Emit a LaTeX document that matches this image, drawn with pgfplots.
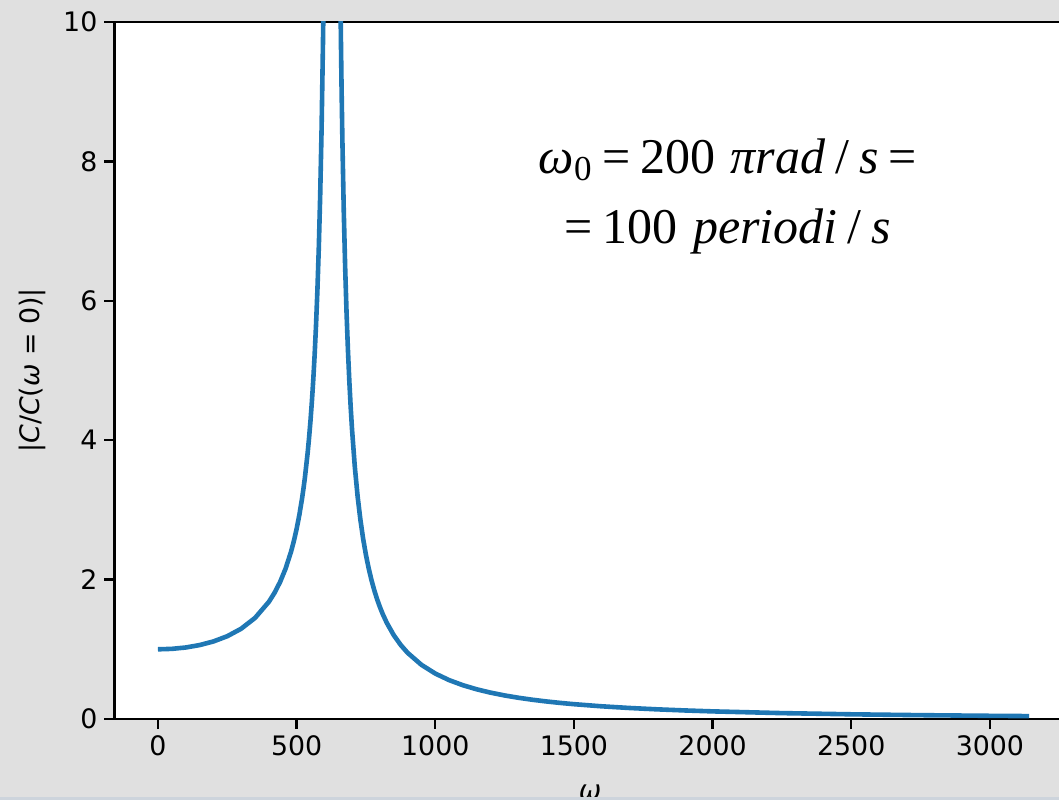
\documentclass[border=0pt]{standalone}
\usepackage{fontspec}
\setmainfont{DejaVu Sans}
\newfontfamily\annfont{Liberation Serif}
\usepackage{pgfplots}
\pgfplotsset{compat=1.18}
\definecolor{bg}{RGB}{224,224,224}
\definecolor{mplblue}{RGB}{31,119,180}
\definecolor{edge}{RGB}{205,212,220}
\newcommand{\gsp}{\hspace{0.2em}}
\begin{document}
\begin{tikzpicture}[x=1pt,y=1pt]
\useasboundingbox (0,0) rectangle (529.5,400);
\clip (0,0) rectangle (529.5,400);
\fill[bg] (0,0) rectangle (529.5,400);
\begin{axis}[
  at={(57.2pt,40.5pt)}, anchor=south west,
  scale only axis, width=479.15pt, height=348.5pt,
  xmin=-157.08, xmax=3298.7, ymin=0, ymax=10,
  axis background/.style={fill=white},
  axis line style={line width=1.2pt},
  every tick/.style={black, line width=1.2pt},
  tick align=outside, tick pos=left, major tick length=5pt,
  xtick={0,500,1000,1500,2000,2500,3000},
  ytick={0,2,4,6,8,10},
  tick label style={font=\fontsize{13.4}{16}\selectfont},
  /pgf/number format/assume math mode=true,
  /pgf/number format/1000 sep={},
  xlabel={\textit{ω}},
  xlabel style={at={(axis description cs:0.4963,-0.1162)}, anchor=base, font=\fontsize{13.4}{16}\selectfont},
  ylabel={|\textit{C}/\textit{C}(\textit{ω} = 0)|},
  ylabel style={at={(axis description cs:-0.086,0.5)}, anchor=center, rotate=0, font=\fontsize{13.4}{16}\selectfont},
]
\addplot[mplblue, line width=2.3pt, line join=round] coordinates {
(0,1) (50,1.00637) (100,1.02599) (150,1.06044) (200,1.11274) (250,1.18809)
(300,1.29530) (350,1.44990) (400,1.68147) (420,1.80775) (440,1.96230)
(460,2.15512) (480,2.40160) (490,2.55219) (500,2.72671) (510,2.93119)
(520,3.17392) (525,3.31311) (530,3.46654) (540,3.82602) (545,4.03833)
(550,4.27792) (555,4.55034) (560,4.8628) (565,5.22486) (570,5.64914)
(575,6.15322) (580,6.76186) (585,7.51126) (590,8.4566) (595,9.68582)
(597,10.2875) (598,10.6182) (600,11.3496) (610,17.404) (620,38.02)
(640,26.646) (650,14.244) (655,11.530) (657,10.709) (660,9.6723)
(662,9.0838) (665,8.3216) (670,7.2952) (675,6.4888) (680,5.8386)
(685,5.3033) (690,4.8550) (695,4.4739) (700,4.1462) (710,3.6114)
(720,3.1936) (730,2.8584) (740,2.5834) (750,2.3539) (760,2.1595)
(770,1.9927) (780,1.8481) (790,1.7216) (800,1.60995) (810,1.5108)
(825,1.38113) (850,1.20465) (875,1.06456) (900,0.95079)
(950,0.77757) (1000,0.65229) (1050,0.55783) (1100,0.48427) (1150,0.42555)
(1200,0.37770) (1250,0.33809) (1300,0.30480) (1350,0.27651) (1400,0.25222)
(1450,0.23118) (1500,0.21280) (1600,0.18233) (1700,0.15822) (1800,0.13875)
(1900,0.12279) (2000,0.10950) (2250,0.08458) (2500,0.06742) (2750,0.05508)
(3000,0.04588) (3141.6,0.04167)
};
\node[align=center, font=\annfont\fontsize{25}{35}\selectfont] at (axis cs:2055,7.50)
  {\textit{ω}\textsubscript{0}\gsp=\gsp200\hspace{0.3em}\textit{πrad}\gsp/\gsp\textit{s}\gsp=\\=\gsp100\hspace{0.3em}\textit{periodi}\gsp/\gsp\textit{s}};
\end{axis}
\fill[edge] (0,0) rectangle (529.5,1.5);
\end{tikzpicture}
\end{document}
